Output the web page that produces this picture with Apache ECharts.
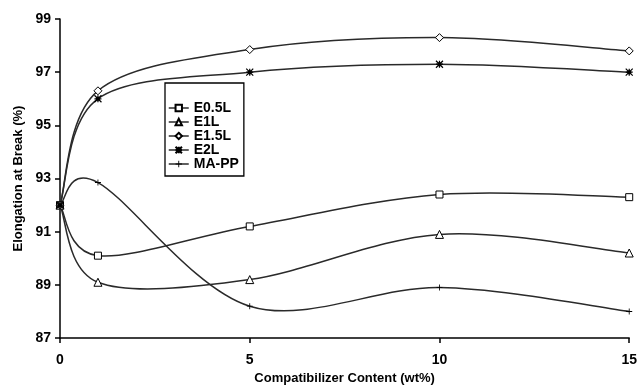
<!DOCTYPE html>
<html><head><meta charset="utf-8">
<script src="https://cdn.jsdelivr.net/npm/echarts@6/dist/echarts.min.js"></script>
<style>html,body{margin:0;padding:0;background:#fff}#c{width:640px;height:390px}</style>
</head><body><div id="c"></div>
<script>
var xValues = [0, 1, 5, 10, 15];
var seriesNames = ['E0.5L', 'E1L', 'E1.5L', 'E2L', 'MA-PP'];
var e05L = [92.0, 90.1, 91.2, 92.4, 92.3];
var e1L = [92.0, 89.1, 89.2, 90.9, 90.2];
var e15L = [92.0, 96.3, 97.85, 98.3, 97.8];
var e2L = [92.0, 96.0, 97.0, 97.3, 97.0];
var maPP = [92.0, 92.85, 88.2, 88.9, 88.0];
var yTicks = [87, 89, 91, 93, 95, 97, 99];
var xTicks = [0, 5, 10, 15];

var font = '"Liberation Sans", Arial, sans-serif';
var allData = [e05L, e1L, e15L, e2L, maPP];
var symbols = ['rect', 'triangle', 'diamond',
  'path://M0,0L10,10M10,0L0,10M5,0L5,10M0,5L10,5M3,3L7,3L7,7L3,7Z',
  'path://M0,4.3L10,4.3L10,5.7L0,5.7Z M4.3,0L5.7,0L5.7,10L4.3,10Z'];
var sizes = [7, 8, 8, 7, 6];
var lineColor = '#2a2a2a';

function pairs(arr) { return xValues.map(function (x, i) { return [x, arr[i]]; }); }

// Excel-style smoothed curve (Bezier through points, control = neighbour chord / 6), in pixel space
function makeRender(arr) {
  return function (params, api) {
    var pts = xValues.map(function (x, i) { return api.coord([x, arr[i]]); });
    var n = pts.length;
    var d = 'M' + pts[0][0] + ',' + pts[0][1];
    for (var i = 0; i < n - 1; i++) {
      var p0 = pts[Math.max(i - 1, 0)], p1 = pts[i], p2 = pts[i + 1], p3 = pts[Math.min(i + 2, n - 1)];
      var c1 = [p1[0] + (p2[0] - p0[0]) / 6, p1[1] + (p2[1] - p0[1]) / 6];
      var c2 = [p2[0] - (p3[0] - p1[0]) / 6, p2[1] - (p3[1] - p1[1]) / 6];
      d += 'C' + c1[0] + ',' + c1[1] + ' ' + c2[0] + ',' + c2[1] + ' ' + p2[0] + ',' + p2[1];
    }
    return { type: 'path', shape: { pathData: d }, style: { fill: null, stroke: lineColor, lineWidth: 1.5 } };
  };
}

var series = [];
seriesNames.forEach(function (n, i) {
  series.push({
    name: '_curve' + i, type: 'custom', renderItem: makeRender(allData[i]),
    data: [[xValues[0], allData[i][0]]], silent: true, z: 2
  });
});
seriesNames.forEach(function (n, i) {
  series.push({
    name: n, type: 'line', data: pairs(allData[i]),
    symbol: symbols[i], symbolSize: sizes[i], showAllSymbol: true,
    lineStyle: { color: lineColor, width: 1.5, opacity: 0 },
    itemStyle: { color: (i >= 3 ? '#000' : '#fff'), borderColor: '#000', borderWidth: (i === 3 ? 1.2 : (i === 4 ? 0 : 1)) },
    emphasis: { disabled: true }, z: 3
  });
});

var chart = echarts.init(document.getElementById('c'), null, { renderer: 'canvas' });
chart.setOption({
  animation: false,
  backgroundColor: '#fff',
  grid: { left: 60, right: 9, top: 19, bottom: 47 },
  xAxis: {
    type: 'value', min: 0, max: 15, interval: 5,
    name: 'Compatibilizer Content (wt%)', nameLocation: 'middle', nameGap: 25,
    nameTextStyle: { fontFamily: font, fontWeight: 'bold', fontSize: 13, color: '#000' },
    axisLine: { onZero: false, lineStyle: { color: '#000', width: 1.5 } },
    axisTick: { show: true, length: 5, inside: false, lineStyle: { color: '#000', width: 1.5 } },
    axisLabel: { margin: 15, fontFamily: font, fontWeight: 'bold', fontSize: 14, color: '#000',
      formatter: function (v) { return xTicks.indexOf(v) >= 0 ? String(v) : ''; } },
    splitLine: { show: false }
  },
  yAxis: {
    type: 'value', min: 87, max: 99, interval: 2,
    name: 'Elongation at Break (%)', nameLocation: 'middle', nameGap: 35,
    nameTextStyle: { fontFamily: font, fontWeight: 'bold', fontSize: 13, color: '#000' },
    axisLine: { show: true, lineStyle: { color: '#000', width: 1.5 } },
    axisTick: { show: true, length: 5, lineStyle: { color: '#000', width: 1.5 } },
    axisLabel: { margin: 9, fontFamily: font, fontWeight: 'bold', fontSize: 14, color: '#000',
      formatter: function (v) { return yTicks.indexOf(v) >= 0 ? String(v) : ''; } },
    splitLine: { show: false }
  },
  legend: {
    orient: 'vertical', left: 165, top: 83,
    data: seriesNames,
    borderColor: '#000', borderWidth: 1.3, backgroundColor: '#fff',
    padding: [18, 5, 5, 3], itemGap: 0, itemWidth: 20, itemHeight: 8,
    lineStyle: { color: lineColor, width: 1.5, opacity: 1 },
    textStyle: { fontFamily: font, fontWeight: 'bold', fontSize: 14, color: '#000' },
    selectedMode: false
  },
  series: series
});
</script></body></html>
